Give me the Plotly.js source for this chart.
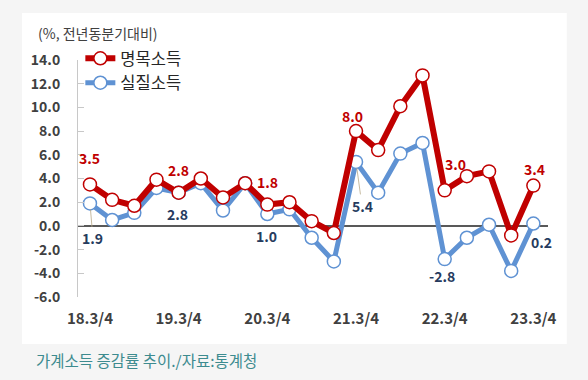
<!DOCTYPE html>
<html><head><meta charset="utf-8">
<script src="https://cdn.plot.ly/plotly-3.0.1.min.js"></script>
<style>html,body{margin:0;padding:0;background:#f5f5f5;}#chart{width:588px;height:380px;}</style>
</head><body><div id="chart"></div>
<script>
// ---- data ----
var quarters = ['18.3/4','18.4/4','19.1/4','19.2/4','19.3/4','19.4/4','20.1/4','20.2/4','20.3/4','20.4/4',
                '21.1/4','21.2/4','21.3/4','21.4/4','22.1/4','22.2/4','22.3/4','22.4/4','23.1/4','23.2/4','23.3/4'];
var tickLabels = ['18.3/4','19.3/4','20.3/4','21.3/4','22.3/4','23.3/4'];
var nominal = [3.5, 2.2, 1.7, 3.9, 2.8, 4.0, 2.4, 3.6, 1.8, 2.0, 0.4, -0.6, 8.0, 6.4, 10.1, 12.7, 3.0, 4.2, 4.6, -0.8, 3.4];
var real    = [1.9, 0.5, 1.1, 3.2, 2.8, 3.6, 1.3, 3.6, 1.0, 1.4, -1.0, -3.0, 5.4, 2.8, 6.1, 7.0, -2.8, -1.0, 0.1, -3.8, 0.2];
var seriesNames = ['명목소득', '실질소득'];
var yTicks = [-6, -4, -2, 0, 2, 4, 6, 8, 10, 12, 14];
var nominalLabelIdx = [0, 4, 8, 12, 16, 20];
var realLabelIdx = [0, 4, 8, 12, 16, 20];
var yTitle = '(%, 전년동분기대비)';
var caption = '가계소득 증감률 추이./자료:통계청';

// ---- styles ----
var RED = '#c00000', BLUE = '#5f92d3', REDTXT = '#c00000', BLUETXT = '#263b5e';
var FONT = '"Noto Sans CJK KR", "Noto Sans", sans-serif';
var nomShift = [[0,26],[0,23],[0,23],[-4,15],[11,26],[1,17]];
var realShift = [[3,-35,true],[-1,-21],[-1,-22],[6,-44,true],[-3,-17],[8,-18]];

var traces = [
  {x: quarters, y: real, name: seriesNames[1], type: 'scatter', mode: 'lines+markers',
   line: {color: BLUE, width: 5}, marker: {size: 13, color: '#ffffff', line: {color: BLUE, width: 1.5}}},
  {x: quarters, y: nominal, name: seriesNames[0], type: 'scatter', mode: 'lines+markers',
   line: {color: RED, width: 6}, marker: {size: 13, color: '#ffffff', line: {color: RED, width: 1.5}}}
];

var ann = [];
nominalLabelIdx.forEach(function(i, k){
  ann.push({x: quarters[i], y: nominal[i], xref:'x', yref:'y', text: nominal[i].toFixed(1), showarrow:false,
    xshift: nomShift[k][0], yshift: nomShift[k][1], font:{family:FONT, size:14, color:REDTXT, weight:'bold'}});
});
realLabelIdx.forEach(function(i, k){
  var s = realShift[k];
  if (s[2]) {
    ann.push({x: quarters[i], y: real[i], xref:'x', yref:'y', text: real[i].toFixed(1), showarrow:true,
      arrowhead:0, arrowwidth:0.8, arrowcolor:'#b8a888', ax: s[0], ay: -s[1], standoff: 6,
      font:{family:FONT, size:14, color:BLUETXT, weight:'bold'}});
  } else {
    ann.push({x: quarters[i], y: real[i], xref:'x', yref:'y', text: real[i].toFixed(1), showarrow:false,
      xshift: s[0], yshift: s[1], font:{family:FONT, size:14, color:BLUETXT, weight:'bold'}});
  }
});
ann.push({xref:'paper', yref:'paper', x:-0.089, y:1.114, xanchor:'left', yanchor:'middle', showarrow:false,
  text: yTitle, font:{family:FONT, size:14, color:'#404040'}});
ann.push({xref:'paper', yref:'paper', x:-0.0935, y:-0.265, xanchor:'left', yanchor:'middle', showarrow:false,
  text: caption, font:{family:FONT, size:15.5, color:'#3d8b8f'}});

var layout = {
  width: 588, height: 380,
  margin: {l: 78, r: 40, t: 60, b: 83},
  paper_bgcolor: '#f5f5f5', plot_bgcolor: 'rgba(0,0,0,0)',
  showlegend: true,
  legend: {x: 0.005, y: 1.08, xanchor:'left', yanchor:'top', bgcolor:'rgba(0,0,0,0)', traceorder:'reversed',
    font:{family:FONT, size:16.5, color:'#262626'}, tracegroupgap: 0},
  xaxis: {type:'category', range:[-0.54, 20.66], tickvals: tickLabels, ticktext: tickLabels,
    showgrid:false, zeroline:false, showline:false, ticks:'', ticklabelstandoff: 11,
    tickfont:{family:FONT, size:15, color:'#404040', weight:'bold'}},
  yaxis: {range:[-6, 14], tickvals: yTicks, ticktext: yTicks.map(function(v){return v.toFixed(1);}),
    showgrid:false, zeroline:true, zerolinecolor:'#595959', zerolinewidth:2,
    showline:true, linecolor:'#c8c8c8', linewidth:1, ticks:'inside', ticklen:6, tickcolor:'#c8c8c8',
    ticklabelstandoff: 14, tickfont:{family:FONT, size:14, color:'#404040', weight:'bold'}},
  shapes: [{type:'rect', xref:'paper', yref:'paper', x0:-0.119, x1:1.040, y0:-0.198, y1:1.198,
    fillcolor:'#ffffff', line:{width:0}, layer:'below'}],
  annotations: ann
};
Plotly.newPlot('chart', traces, layout, {displayModeBar:false, staticPlot:true});
</script></body></html>
